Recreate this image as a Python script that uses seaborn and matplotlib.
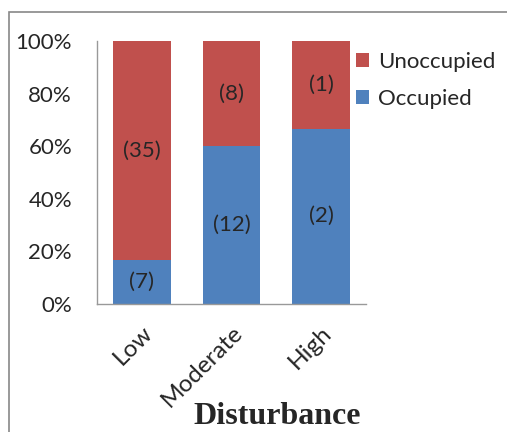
import matplotlib
matplotlib.use("Agg")
import matplotlib.pyplot as plt
import seaborn as sns
import pandas as pd
from matplotlib.patches import Rectangle

categories = ["Low", "Moderate", "High"]
occupied = [7, 12, 2]
unoccupied = [35, 8, 1]

totals = [o + u for o, u in zip(occupied, unoccupied)]
occ_pct = [100 * o / t for o, t in zip(occupied, totals)]
df = pd.DataFrame({"cat": categories, "occ": occ_pct, "full": [100.0] * 3})

sns.set_style("white")
plt.rcParams["font.family"] = ["Lato", "DejaVu Sans"]

RED = "#C0504D"
BLUE = "#4F81BD"

fig = plt.figure(figsize=(5.07, 4.32), dpi=100)
ax = fig.add_axes([97 / 507, 1 - 304 / 432, (366 - 97) / 507, (304 - 41) / 432])

sns.barplot(data=df, x="cat", y="full", color=RED, width=0.64, saturation=1, ax=ax,
            label="Unoccupied", linewidth=0)
sns.barplot(data=df, x="cat", y="occ", color=BLUE, width=0.64, saturation=1, ax=ax,
            label="Occupied", linewidth=0)

for i, (o, u, p) in enumerate(zip(occupied, unoccupied, occ_pct)):
    ax.text(i, p / 2, f"({o})", ha="center", va="center", fontsize=16)
    ax.text(i, p + (100 - p) / 2, f"({u})", ha="center", va="center", fontsize=16)

ax.set_xlim(-0.5, 2.5)
ax.set_ylim(0, 100)
ax.set_yticks([0, 20, 40, 60, 80, 100])
ax.set_yticklabels([f"{v}%" for v in [0, 20, 40, 60, 80, 100]], fontsize=16)
ax.tick_params(axis="y", length=0, pad=18)
ax.tick_params(axis="x", length=0, pad=13)
ax.set_xticks(range(3))
ax.set_xticklabels(categories, rotation=45, ha="right", rotation_mode="anchor", fontsize=17.5)
ax.set_xlabel("")
ax.set_ylabel("")
for s in ["top", "right"]:
    ax.spines[s].set_visible(False)
for s in ["left", "bottom"]:
    ax.spines[s].set_color("#999999")
    ax.spines[s].set_linewidth(1)

handles, labels = ax.get_legend_handles_labels()
if ax.get_legend() is not None:
    ax.get_legend().remove()
leg = fig.legend(handles, labels, loc="upper left", bbox_to_anchor=(347 / 507, 1 - 43 / 432),
                 frameon=False, fontsize=16, handlelength=0.6, handleheight=0.6,
                 handletextpad=0.4, labelspacing=0.75, borderaxespad=0)

fig.text(277 / 507, 1 - 417 / 432, "Disturbance", ha="center", va="center",
         fontsize=23, fontweight="bold", family="Liberation Serif")

fig.patches.append(Rectangle((9 / 507, -0.1), 1.2, 1 - 12 / 432 + 0.1, transform=fig.transFigure,
                             fill=False, edgecolor="#888888", linewidth=1.2))

fig.savefig("out.png", dpi=100)
